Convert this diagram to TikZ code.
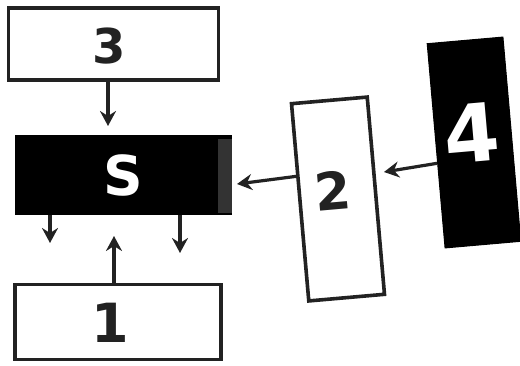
\documentclass[tikz,border=0pt]{standalone}
\usepackage{fontspec}
\setmainfont{DejaVu Sans}
\usetikzlibrary{arrows.meta,calc}
\definecolor{ink}{HTML}{222222}
\definecolor{edgegray}{HTML}{333333}
\begin{document}
\begin{tikzpicture}[x=1pt,y=-1pt,
  box/.style={draw=ink, line width=3.6pt, fill=white, inner sep=0pt},
  blk/.style={fill=black, draw=black, line width=1pt, inner sep=0pt},
  num/.style={text=ink, inner sep=0pt},
  wnum/.style={text=white, inner sep=0pt},
  arr/.style={draw=ink, line width=3.2pt, -{Stealth[length=15pt,width=16pt,inset=5pt]}},
]
\useasboundingbox (0,0) rectangle (520,365);
% boxes
\node[box, minimum width=210pt, minimum height=72pt] (n3) at (113.5,44) {};
\node[blk, minimum width=216pt, minimum height=79pt] (nS) at (123.5,175) {};
\fill[edgegray] (218,139) rectangle (232,213);
\node[box, minimum width=206pt, minimum height=75pt] (n1) at (118,322) {};
\node[box, rotate=5, minimum width=76pt, minimum height=198pt] (n2) at (338,199) {};
\node[blk, rotate=5, minimum width=76pt, minimum height=205pt] (n4) at (474,142.5) {};
% labels
\node[num, font=\bfseries\fontsize{48}{48}\selectfont] (t3) at (109,46) {3};
\node[wnum, font=\bfseries\fontsize{55}{55}\selectfont] (tS) at (123,175) {S};
\node[num, font=\bfseries\fontsize{54}{54}\selectfont] (t1) at (110,323) {1};
\node[num, rotate=5, font=\bfseries\fontsize{52}{52}\selectfont] (t2) at (333,191) {2};
\node[wnum, rotate=5, font=\bfseries\fontsize{80}{80}\selectfont] (t4) at (472,133) {4};
% connector positions
\coordinate (x3) at (108,0);
\coordinate (x1) at (114,0);
\coordinate (xa) at (50,0);
\coordinate (xb) at (180,0);
\coordinate (d1) at (50,243);
\coordinate (d2) at (180,253);
\coordinate (e2) at (237,184);
\coordinate (e4) at (384,172);
\coordinate (p2) at ($(n2.north west)!0.37!(n2.south west)$);
\coordinate (p4) at ($(n4.north west)!0.585!(n4.south west)$);
% connectors
\draw[arr, shorten >=9pt] (n3.south -| x3) -- (nS.north -| x3);
\draw[arr] (nS.south -| xa) -- (d1);
\draw[arr] (nS.south -| xb) -- (d2);
\draw[arr, shorten >=21pt] (n1.north -| x1) -- (nS.south -| x1);
\draw[arr] (p2) -- (e2);
\draw[arr] (p4) -- (e4);
\end{tikzpicture}
\end{document}
